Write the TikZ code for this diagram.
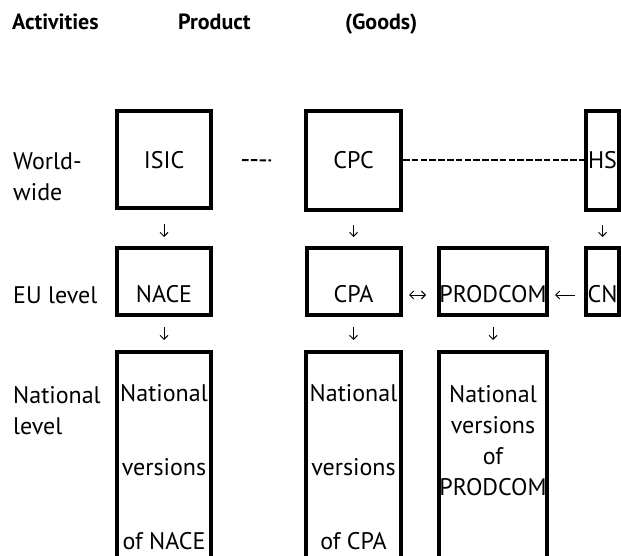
\documentclass[tikz,border=0pt]{standalone}
\usepackage{fontspec}
\setmainfont{PT Sans}
\usetikzlibrary{positioning,arrows.meta}

\begin{document}
\begin{tikzpicture}[x=1pt,y=-1pt,every node/.style={font=\fontsize{24}{31}\selectfont,inner sep=0pt}, %todo en pt, y para abajo
    caja/.style={draw,line width=4pt,align=center},
    cajaeu/.style={caja,minimum height=67pt,text height=42pt,text depth=0pt}, %el texto queda abajo en la caja
    cajanac/.style={caja,minimum height=231pt,font=\fontsize{24}{74}\selectfont},
    titulo/.style={anchor=base west,font=\bfseries\fontsize{22}{31}\selectfont},
    punta/.tip={Straight Barb[length=4pt,width=8pt]},
    flecha/.style={line width=0.9pt,-punta},
    guiones/.style={line width=2pt,dash pattern=on 6.5pt off 2.3pt}]
    \useasboundingbox (0,0) rectangle (621,556);

    %Titulos de arriba
    \node[titulo] (act) at (12,30) {Activities};
    \node[titulo] (prod) at (178,30) {Product};
    \node[titulo] (goods) at (345,30) {(Goods)};

    %Los niveles a la izquierda
    \node[anchor=west,align=left] (mundo) at (13,177) {World-\\wide};
    \node[anchor=west] (eu) at (13,295) {EU level};
    \node[anchor=west,align=left] (nac) at (13,411) {National\\level};

    %Fila mundial
    \node[caja,minimum width=94pt,minimum height=97pt] (isic) at (164,160) {ISIC};
    \node[caja,minimum width=95pt,minimum height=99pt] (cpc) at (353.5,160.5) {CPC};
    \node[caja,minimum width=33pt,minimum height=99pt] (hs) at (602.5,160.5) {HS};

    %Fila EU
    \node[cajaeu,minimum width=94pt] (nace) at (164,281.5) {NACE};
    \node[cajaeu,minimum width=94pt] (cpa) at (353.5,281.5) {CPA};
    \node[cajaeu,minimum width=108pt] (prodcom) at (493,281.5) {PRODCOM};
    \node[cajaeu,minimum width=33pt] (cn) at (602.5,281.5) {CN};

    %Fila nacional (se sale por abajo)
    \node[cajanac,minimum width=94pt] (natnace) at (164,467.5) {National\\versions\\of NACE};
    \node[cajanac,minimum width=95pt] (natcpa) at (353.5,467.5) {National\\versions\\of CPA};
    \node[cajanac,minimum width=108pt] (natprod) at (493,467.5) {};
    \node[align=center,below=35pt of natprod.north] (natprodtxt) {National\\versions\\of\\PRODCOM};

    %Guiones
    \draw[guiones,shorten <=29pt,shorten >=33pt] (isic.east) -- (cpc.west);
    \draw[guiones] (cpc.east) -- (hs.west);

    %Flechitas
    \draw[flecha,shorten <=13.5pt,shorten >=9pt] (isic) -- (nace);
    \draw[flecha,shorten <=13.5pt,shorten >=9pt] (cpc) -- (cpa);
    \draw[flecha,shorten <=13.5pt,shorten >=9pt] (hs) -- (cn);
    \draw[flecha,shorten <=10pt,shorten >=10pt] (nace) -- (natnace);
    \draw[flecha,shorten <=10pt,shorten >=10pt] (cpa) -- (natcpa);
    \draw[flecha,shorten <=10pt,shorten >=10pt] (prodcom) -- (natprod);
    \draw[flecha,punta-punta,shorten <=6.5pt,shorten >=11pt] ([yshift=-13.5pt]cpa.east) -- ([yshift=-13.5pt]prodcom.west); %la de dos puntas
    \draw[flecha,shorten <=9pt,shorten >=6pt] ([yshift=-13.5pt]cn.west) -- ([yshift=-13.5pt]prodcom.east);
\end{tikzpicture}
\end{document}
